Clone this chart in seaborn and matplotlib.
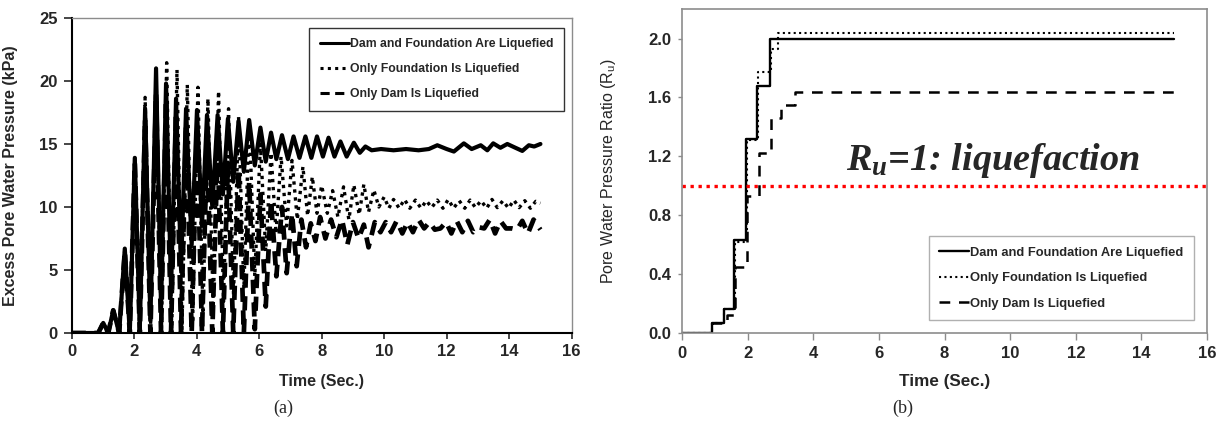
import numpy as np
import pandas as pd
import matplotlib
matplotlib.use('Agg')
import matplotlib.pyplot as plt
import seaborn as sns

sns.set_style('ticks')
plt.rcParams['font.family'] = ['Liberation Sans', 'DejaVu Sans']
plt.rcParams['mathtext.default'] = 'regular'

labels = ['Dam and Foundation Are Liquefied',
          'Only Foundation Is Liquefied',
          'Only Dam Is Liquefied']

# (a) excess pore water pressure (kPa) - peaks/troughs
t_both = [0.00, 0.85, 1.01, 1.17, 1.33, 1.52, 1.70, 1.86, 2.02, 2.18, 2.35, 2.52,
          2.70, 2.86, 3.02, 3.18, 3.34, 3.50, 3.66, 3.84, 4.01, 4.17, 4.33, 4.50,
          4.67, 4.84, 5.00, 5.17, 5.34, 5.51, 5.68, 5.86, 6.04, 6.21, 6.38, 6.55,
          6.73, 6.92, 7.10, 7.29, 7.48, 7.67, 7.85, 8.04, 8.22, 8.41, 8.60, 8.80,
          9.03, 9.22, 9.40, 9.60, 9.90, 10.3, 10.7, 11.1, 11.43, 11.70, 12.00, 12.23,
          12.55, 12.80, 13.09, 13.30, 13.49, 13.72, 13.94, 14.20, 14.42, 14.63, 14.80, 15.00]
p_both = [0, 0, 0.8, 0, 1.8, 0, 6.7, 0, 13.9, 0.3, 17.8, 1.0,
          21.0, 2.0, 19.8, 3.5, 18.6, 5.0, 17.8, 7.0, 17.7, 8.5, 17.3, 10.0,
          17.3, 11.0, 17.0, 12.0, 16.8, 12.8, 16.9, 13.3, 16.3, 13.6, 15.9, 13.8,
          15.7, 13.8, 15.6, 13.9, 15.6, 13.9, 15.6, 14.0, 15.5, 14.0, 15.2, 14.0,
          15.1, 14.3, 14.8, 14.5, 14.6, 14.5, 14.6, 14.5, 14.6, 14.9, 14.6, 14.4,
          15.05, 14.6, 14.9, 14.5, 15.05, 14.7, 15.0, 14.7, 14.45, 14.9, 14.8, 15.0]

t_found = [0.00, 0.85, 1.01, 1.17, 1.33, 1.52, 1.70, 1.86, 2.02, 2.18, 2.35, 2.52,
           2.70, 2.87, 3.04, 3.20, 3.37, 3.53, 3.70, 3.87, 4.04, 4.20, 4.36, 4.53,
           4.70, 4.86, 5.02, 5.18, 5.34, 5.51, 5.68, 5.86, 6.04, 6.21, 6.38, 6.54,
           6.70, 6.88, 7.05, 7.22, 7.40, 7.55, 7.70, 7.85, 8.00, 8.18, 8.35, 8.52,
           8.70, 8.87, 9.03, 9.20, 9.35, 9.50, 9.67, 9.83, 10.00, 10.15, 10.30, 10.48,
           10.65, 10.82, 11.00, 11.18, 11.35, 11.52, 11.70, 11.88, 12.05, 12.22, 12.40, 12.58,
           12.75, 12.92, 13.10, 13.28, 13.45, 13.62, 13.80, 13.98, 14.15, 14.32, 14.50, 14.68,
           14.85, 15.00]
p_found = [0, 0, 0.8, 0, 1.8, 0, 6.7, 0, 13.9, 0, 18.7, 0,
           20.5, 0, 21.45, 0, 20.9, 0.3, 19.7, 0.8, 19.5, 1.5, 18.6, 2.0,
           19.2, 2.5, 17.8, 3.0, 17.2, 3.5, 17.0, 4.5, 15.0, 6.5, 14.3, 7.9,
           14.0, 8.5, 13.7, 9.0, 13.2, 9.3, 12.4, 9.5, 11.7, 9.5, 11.3, 9.2,
           11.6, 9.0, 11.75, 9.4, 11.8, 9.6, 11.35, 10.0, 10.8, 9.9, 10.6, 9.9,
           10.6, 9.9, 10.55, 9.9, 10.5, 9.95, 10.55, 9.9, 10.6, 9.9, 10.5, 9.9,
           10.55, 9.95, 10.5, 9.9, 10.6, 9.95, 10.5, 9.9, 10.55, 9.95, 10.5, 9.9,
           10.45, 10.3]

t_dam = [0.00, 0.85, 1.01, 1.17, 1.33, 1.52, 1.70, 1.86, 2.02, 2.18, 2.35, 2.52,
         2.70, 2.86, 3.02, 3.18, 3.34, 3.50, 3.66, 3.84, 4.01, 4.17, 4.33, 4.50,
         4.67, 4.84, 5.00, 5.17, 5.34, 5.51, 5.68, 5.86, 6.04, 6.21, 6.38, 6.55,
         6.73, 6.88, 7.05, 7.20, 7.35, 7.50, 7.65, 7.80, 7.95, 8.12, 8.30, 8.47,
         8.65, 8.82, 9.00, 9.18, 9.35, 9.50, 9.70, 9.88, 10.05, 10.22, 10.40, 10.58,
         10.75, 10.92, 11.10, 11.28, 11.45, 11.62, 11.80, 11.98, 12.15, 12.32, 12.50, 12.68,
         12.85, 13.02, 13.20, 13.38, 13.55, 13.72, 13.90, 14.08, 14.25, 14.42, 14.60, 14.78,
         15.00]
p_dam = [0, 0, 0.8, 0, 1.8, 0, 6.5, 0, 13.5, 0, 17.0, 0,
         19.0, 0, 18.5, 0, 17.5, 0, 16.5, 0, 16.0, 0, 15.0, 0,
         14.5, 0, 13.5, 0, 13.0, 0, 12.0, 0.3, 11.0, 2.1, 10.5, 4.5,
         10.0, 4.75, 9.5, 5.3, 9.0, 6.8, 8.7, 7.3, 9.2, 7.5, 9.0, 7.6,
         9.0, 7.0, 8.8, 7.5, 8.6, 6.8, 8.8, 8.0, 8.8, 8.0, 8.9, 7.9,
         8.8, 8.0, 9.0, 8.3, 8.8, 8.2, 8.3, 8.8, 7.9, 8.9, 8.0, 8.9,
         8.0, 8.4, 8.3, 9.0, 7.9, 8.9, 8.3, 8.3, 8.2, 8.9, 7.9, 9.0,
         8.2]

# (b) pore water pressure ratio Ru - step values
ru_t_both = [0, 0.90, 1.27, 1.58, 1.95, 2.28, 2.67, 15.0]
ru_both = [0, 0.07, 0.16, 0.63, 1.32, 1.68, 2.00, 2.00]
ru_t_found = [0, 0.90, 1.27, 1.60, 1.97, 2.30, 2.70, 2.92, 15.0]
ru_found = [0, 0.07, 0.16, 0.62, 1.31, 1.77, 1.93, 2.04, 2.04]
ru_t_dam = [0, 0.90, 1.36, 1.62, 1.98, 2.36, 2.70, 3.03, 3.45, 15.0]
ru_dam = [0, 0.07, 0.12, 0.45, 0.93, 1.22, 1.46, 1.55, 1.64, 1.64]
ru_limit = 1.0

styles = [dict(color='black', lw=3.0, ls='-'),
          dict(color='black', lw=2.4, ls=(0, (1, 1.4))),
          dict(color='black', lw=3.4, ls=(0, (3, 1.8)))]
styles_b = [dict(color='black', lw=1.7, ls='-'),
            dict(color='black', lw=1.5, ls=(0, (1, 1.6))),
            dict(color='black', lw=1.8, ls=(0, (4.3, 3.5)))]

fig = plt.figure(figsize=(12.21, 4.24), dpi=100)
ax1 = fig.add_axes([0.0587, 0.2146, 0.4095, 0.743])
ax2 = fig.add_axes([0.5586, 0.2146, 0.43, 0.764])

# ---- panel (a)
for (t, p), lab, st in zip([(t_both, p_both), (t_found, p_found), (t_dam, p_dam)], labels, styles):
    sns.lineplot(x=t, y=p, ax=ax1, sort=False, estimator=None, label=lab, **st)

ax1.set_xlim(0, 16)
ax1.set_ylim(0, 25)
ax1.set_xticks(range(0, 17, 2))
ax1.set_yticks(range(0, 26, 5))
ax1.set_xlabel('Time (Sec.)', fontsize=11.5, fontweight='bold')
ax1.set_ylabel('Excess Pore Water Pressure (kPa)', fontsize=11.5, fontweight='bold')
ax1.yaxis.set_label_coords(-0.108, 0.5)
ax1.xaxis.set_label_coords(0.5, -0.13)
ax1.tick_params(axis='y', length=6, width=1.2, labelsize=12, pad=4)
ax1.tick_params(axis='x', length=4, width=1.2, labelsize=12, pad=4)
for lb in ax1.get_xticklabels() + ax1.get_yticklabels():
    lb.set_fontweight('bold')
for s in ['left', 'bottom']:
    ax1.spines[s].set_color('black')
    ax1.spines[s].set_linewidth(1.5)
for s in ['top', 'right']:
    ax1.spines[s].set_color('#8c8c8c')
    ax1.spines[s].set_linewidth(1.0)

leg1 = ax1.legend(loc='upper right', bbox_to_anchor=(0.985, 0.968),
                  prop=dict(family='Liberation Sans', weight='bold', size=8.8),
                  frameon=True, fancybox=False, edgecolor='#333333', framealpha=1,
                  labelspacing=1.05, handlelength=2.4, handletextpad=0.1,
                  borderpad=0.85, borderaxespad=0)
leg1.get_frame().set_linewidth(1.0)
for h in leg1.get_lines():
    h.set_linewidth(2.2)

# ---- panel (b)
for (t, r), lab, st in zip([(ru_t_both, ru_both), (ru_t_found, ru_found), (ru_t_dam, ru_dam)], labels, styles_b):
    sns.lineplot(x=t, y=r, ax=ax2, sort=False, estimator=None, label=lab,
                 drawstyle='steps-post', **st)
ax2.axhline(ru_limit, color='red', lw=2.4, ls=(0, (1, 1.4)))

ax2.text(5.0, 1.11, r'$R_u$=1: liquefaction', fontfamily='Liberation Serif',
         fontweight='bold', fontstyle='italic', fontsize=27.5)

ax2.set_xlim(0, 16)
ax2.set_ylim(0, 2.2)
ax2.set_xticks(range(0, 17, 2))
ax2.set_yticks(np.arange(0, 2.01, 0.4))
ax2.set_yticklabels(['%.1f' % v for v in np.arange(0, 2.01, 0.4)])
ax2.set_xlabel('Time (Sec.)', fontsize=12.3, fontweight='bold')
ax2.set_ylabel(r'Pore Water Pressure Ratio (R$_{u}$)', fontsize=11.5)
ax2.yaxis.set_label_coords(-0.122, 0.5)
ax2.xaxis.set_label_coords(0.5, -0.125)
ax2.tick_params(axis='y', length=3, width=1, color='#8c8c8c', labelsize=12, pad=5)
ax2.tick_params(axis='x', length=5, width=1, color='#8c8c8c', labelsize=12, pad=4)
for lb in ax2.get_xticklabels() + ax2.get_yticklabels():
    lb.set_fontweight('bold')
for s in ax2.spines.values():
    s.set_color('#8c8c8c')
    s.set_linewidth(1.2)

leg2 = ax2.legend(loc='lower right', bbox_to_anchor=(0.975, 0.04),
                  prop=dict(family='Liberation Sans', weight='bold', size=9.3),
                  frameon=True, fancybox=False, edgecolor='#b0b0b0', framealpha=1,
                  labelspacing=1.05, handlelength=2.3, handletextpad=0.1,
                  borderpad=0.8, borderaxespad=0)
leg2.get_frame().set_linewidth(1.0)

fig.text(283 / 1221, 1 - 408 / 424, '(a)', ha='center', va='center',
         fontfamily='Liberation Serif', fontsize=13)
fig.text(903 / 1221, 1 - 408 / 424, '(b)', ha='center', va='center',
         fontfamily='Liberation Serif', fontsize=13)

fig.savefig('out.png', dpi=100)
